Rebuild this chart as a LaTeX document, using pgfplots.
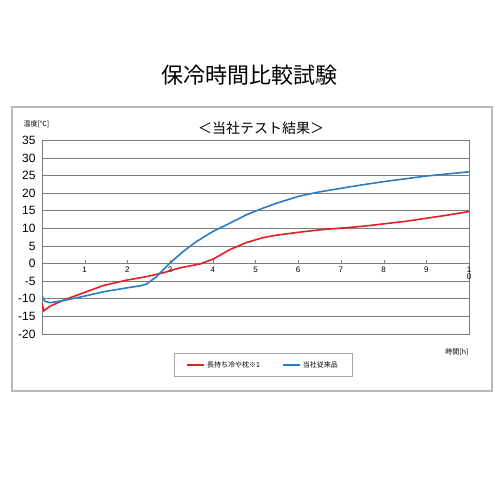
\documentclass[border=0pt]{standalone}
\usepackage{fontspec}
\setmainfont{Liberation Sans}
\newfontfamily\cjk{Noto Sans CJK JP}
\usepackage{pgfplots}
\pgfplotsset{compat=1.18}
\definecolor{redline}{RGB}{230,30,35}
\definecolor{blueline}{RGB}{40,125,195}
\definecolor{gridgray}{RGB}{125,125,125}
\begin{document}
\begin{tikzpicture}[x=1pt,y=1pt]
\path (0,0) rectangle (500,500);
\draw[gray!55, line width=1.2pt] (12,109) rectangle (492,393);
\node[font=\cjk\fontsize{22}{26}\selectfont] at (249,425) {保冷時間比較試験};
\node[font=\cjk\fontsize{14}{16}\selectfont] at (261,372) {＜当社テスト結果＞};
\node[font=\cjk\fontsize{7}{8}\selectfont, anchor=west] at (20,376) {温度[℃]};
\node[font=\cjk\fontsize{7}{8}\selectfont, anchor=east] at (472,148) {時間[h]};
\begin{axis}[
    at={(42pt,166pt)}, anchor=south west,
    scale only axis,
    width=427pt, height=193.5pt,
    xmin=0, xmax=10,
    ymin=-20, ymax=35,
    ytick={-20,-15,...,35},
    xtick={1,2,...,10},
    xticklabels={1,2,3,4,5,6,7,8,9,{1\\0}},
    xtick pos=bottom,
    tick align=inside,
    major tick length=3pt,
    xtick style={gridgray, yshift=70.55pt},
    x tick label style={align=center, font=\fontsize{8}{7}\selectfont, yshift=70.55pt},
    ytick style={draw=none},
    y tick label style={font=\fontsize{12}{12}\selectfont, xshift=-3pt},
    /pgf/number format/assume math mode=true,
    ymajorgrids=true,
    grid style={gridgray, line width=0.8pt},
    axis line style={gridgray, line width=0.8pt},
    legend columns=2,
    legend style={at={(0.518,-0.16)}, anchor=center, draw=gray!70,
        font=\cjk\fontsize{7}{8}\selectfont,
        /tikz/every even column/.append style={column sep=20pt},
        inner xsep=12pt, inner ysep=6pt},
]
\addplot[color=redline, line width=1.6pt] coordinates {
    (0,-11.3) (0.04,-13.4) (0.19,-12.1) (0.5,-10.4) (0.97,-8.3)
    (1.44,-6.2) (1.98,-4.7) (2.45,-3.7) (2.84,-2.6) (3.23,-1.2)
    (3.7,-0.1) (4.01,1.3) (4.4,4.0) (4.79,6.0) (5.18,7.4)
    (5.5,8.1) (6,8.9) (6.5,9.6) (7,10.1) (7.5,10.6)
    (8,11.3) (8.5,12.0) (9,12.9) (9.5,13.8) (10,14.8)
};
\addlegendentry{長持ち冷や枕※1}
\addplot[color=blueline, line width=1.6pt] coordinates {
    (0,-9.3) (0.07,-10.7) (0.19,-11.1) (0.5,-10.5) (0.97,-9.3)
    (1.44,-8.0) (1.98,-6.9) (2.3,-6.3) (2.45,-5.8) (2.69,-3.6)
    (2.84,-1.7) (3.0,0.2) (3.31,3.5) (3.62,6.3) (4.01,9.2)
    (4.4,11.5) (4.79,13.9) (5.18,15.8) (5.5,17.2) (6,19.1)
    (6.5,20.4) (7,21.4) (7.5,22.4) (8,23.3) (8.5,24.1)
    (9,24.9) (9.5,25.5) (10,26.1)
};
\addlegendentry{当社従来品}
\end{axis}
\end{tikzpicture}
\end{document}
